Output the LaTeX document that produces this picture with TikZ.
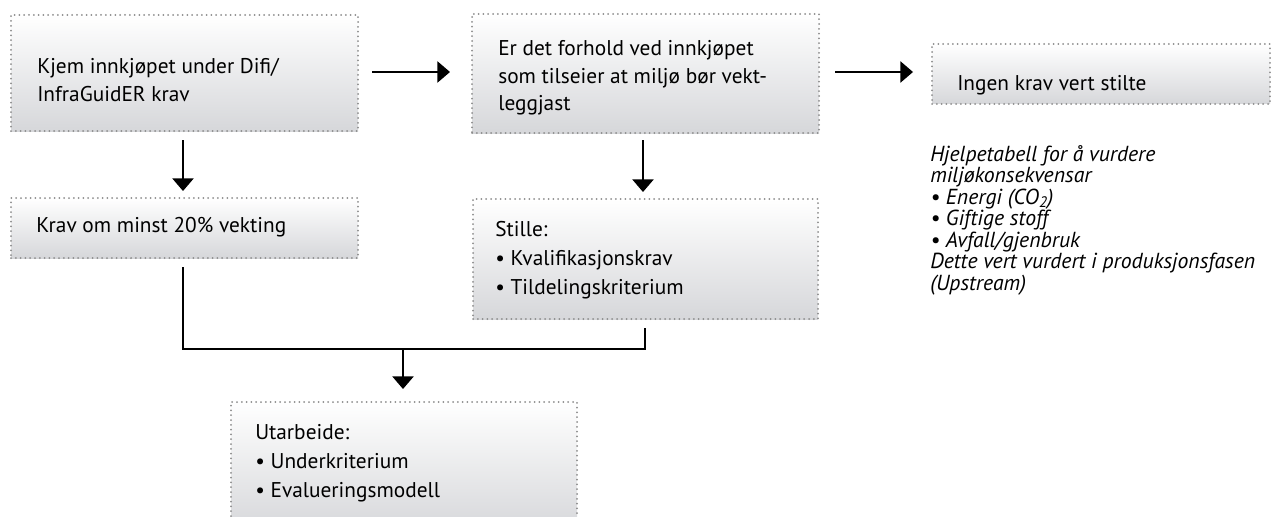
\documentclass[tikz,border=0pt]{standalone}
\usepackage{fontspec}
\setmainfont{PT Sans}
\usetikzlibrary{arrows.meta}
\definecolor{boxbot}{RGB}{214,215,218}
\definecolor{dotgray}{RGB}{140,140,140}
\tikzset{
  box/.style={rectangle, anchor=north west, inner sep=0pt, draw=dotgray,
    line width=1.5pt, dash pattern=on 0pt off 3.6pt, line cap=round,
    top color=white, bottom color=boxbot},
  boxtext/.style={anchor=base west, inner sep=0pt, align=left,
    font=\fontsize{16}{21}\selectfont},
  note/.style={anchor=base west, inner sep=0pt, align=left,
    font=\fontsize{16.3}{16.1}\selectfont\itshape},
  conn/.style={line width=1pt, black},
  arr/.style={conn, -{Triangle[length=9.5pt, width=16pt]}},
}
\begin{document}
\begin{tikzpicture}[x=0.75pt, y=-0.75pt]
\useasboundingbox (0,0) rectangle (1271,517);
\begin{scope}
\clip (0,0) rectangle (1271,517);
% boxes
\node[box, minimum width=347*0.75pt, minimum height=116*0.75pt] (b1) at (10,14) {};
\node[box, minimum width=347*0.75pt, minimum height=119*0.75pt] (b2) at (471,13) {};
\node[box, minimum width=338*0.75pt, minimum height=60*0.75pt] (b3) at (931,43) {};
\node[box, minimum width=347*0.75pt, minimum height=60*0.75pt] (b4) at (10,197) {};
\node[box, minimum width=345*0.75pt, minimum height=120*0.75pt] (b5) at (472,198) {};
\node[box, minimum width=346*0.75pt, minimum height=130*0.75pt] (b6) at (230,401) {};
\end{scope}
% texts (anchor = baseline of last line)
\node[boxtext] (t1) at (37,102) {Kjem innkjøpet under Difi/\\InfraGuidER krav};
\node[boxtext, font=\fontsize{16}{20.25}\selectfont] (t2) at (498,110) {Er det forhold ved innkjøpet\\som tilseier at miljø bør vekt-\\leggjast};
\node[boxtext] (t3) at (957,90) {Ingen krav vert stilte};
\node[boxtext] (t4) at (36,232) {Krav om minst 20\% vekting};
\node[boxtext, font=\fontsize{16}{21.75}\selectfont] (t5) at (495,294) {Stille:\\• Kvalifikasjonskrav\\• Tildelingskriterium};
\node[boxtext, font=\fontsize{16}{21.75}\selectfont] (t6) at (255,497) {Utarbeide:\\• Underkriterium\\• Evalueringsmodell};
\node[note] (t7) at (930,290) {Hjelpetabell for å vurdere\\miljøkonsekvensar\\• Energi (CO\textsubscript{2})\\• Giftige stoff\\• Avfall/gjenbruk\\Dette vert vurdert i produksjonsfasen\\(Upstream)};
% connectors
\coordinate (m) at (403,349);
\draw[arr] ([xshift=13*0.75pt]b1.east |- 0,72) -- ([xshift=-21*0.75pt]b2.west |- 0,72);
\draw[arr] ([xshift=15*0.75pt]b2.east |- 0,72) -- ([xshift=-18*0.75pt]b3.west |- 0,72);
\draw[arr] ([yshift=-8*0.75pt]b1.south -| 183,0) -- ([yshift=6*0.75pt]b4.north -| 183,0);
\draw[arr] ([yshift=-6*0.75pt]b2.south -| 643,0) -- ([yshift=6*0.75pt]b5.north -| 643,0);
\draw[conn] ([yshift=-8*0.75pt]b4.south -| 183,0) |- (m);
\draw[conn] ([yshift=-8*0.75pt]b5.south -| 645,0) |- (m);
\draw[arr] (m) -- ([yshift=12*0.75pt]b6.north -| m);
\end{tikzpicture}
\end{document}
